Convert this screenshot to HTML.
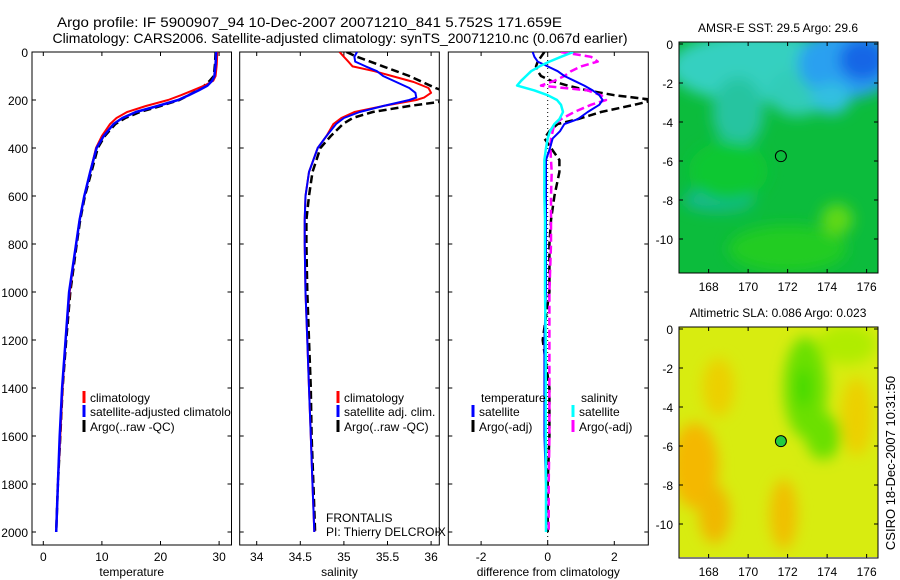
<!DOCTYPE html>
<html><head><meta charset="utf-8"><style>
html,body{margin:0;padding:0;background:#fff;}
svg{display:block;font-family:"Liberation Sans",sans-serif;}
text{fill:#000;}
</style></head><body>
<svg id="fig" width="900" height="580" viewBox="0 0 900 580" xmlns="http://www.w3.org/2000/svg">
<defs>
<clipPath id="c1"><rect x="32" y="52" width="199.5" height="493"/></clipPath>
<clipPath id="c2"><rect x="239.7" y="52" width="199.6" height="493"/></clipPath>
<clipPath id="c3"><rect x="448.3" y="52" width="200" height="493"/></clipPath>
<clipPath id="ct1"><rect x="32" y="52" width="199" height="493"/></clipPath>
<clipPath id="ct2"><rect x="239.7" y="52" width="208" height="493"/></clipPath>
<clipPath id="cm1"><rect x="679" y="42" width="199" height="231"/></clipPath>
<clipPath id="cm2"><rect x="679" y="327" width="199" height="230"/></clipPath>
<filter id="bl" x="-50%" y="-50%" width="200%" height="200%"><feGaussianBlur stdDeviation="7"/></filter>
</defs>
<text x="57" y="27" font-size="14" textLength="505" lengthAdjust="spacingAndGlyphs">Argo profile: IF 5900907_94 10-Dec-2007 20071210_841 5.752S 171.659E</text>
<text x="340" y="43" font-size="14" text-anchor="middle">Climatology: CARS2006. Satellite-adjusted climatology: synTS_20071210.nc (0.067d earlier)</text>
<g id="g1"></g>
<g id="g2"></g>
<g id="g3"></g>
<g id="m1"></g>
<g id="m2"></g>
<text transform="translate(895,463) rotate(-90)" font-size="13" text-anchor="middle">CSIRO 18-Dec-2007 10:31:50</text>
</svg>
<script>
const tDepth=[0,50,100,120,140,160,180,200,225,250,275,300,350,400,500,600,700,800,1000,1200,1400,1600,1800,2000];
const tempClim=[29.7,29.6,29.4,29.0,27.5,25.5,23.5,21.3,17.5,14.3,12.5,11.4,10.0,9.0,8.0,7.0,6.2,5.6,4.5,3.8,3.3,2.9,2.5,2.2];
const tempSat=[29.5,29.4,29.2,28.8,28.0,26.5,24.8,23.0,19.5,15.8,13.5,12.0,10.3,9.1,8.0,7.0,6.2,5.6,4.4,3.8,3.2,2.8,2.5,2.2];
const tempArgo=[29.4,29.3,29.1,28.4,27.5,26.3,24.8,23.2,20.0,16.5,14.0,12.3,10.5,9.3,8.2,7.1,6.3,5.7,4.6,3.9,3.3,2.9,2.5,2.2];
const sDepth=[0,20,40,60,80,100,125,150,170,190,200,225,250,275,300,350,400,500,600,700,800,1000,1200,1400,1600,1800,2000];
const salClim=[34.95,35.0,35.05,35.1,35.35,35.55,35.8,35.97,36.0,35.92,35.83,35.45,35.12,34.97,34.88,34.8,34.7,34.6,34.56,34.55,34.55,34.56,34.58,34.6,34.62,34.64,34.66];
const salSat=[35.15,35.12,35.13,35.25,35.38,35.45,35.6,35.75,35.82,35.83,35.75,35.45,35.18,35.0,34.91,34.8,34.7,34.6,34.56,34.55,34.55,34.56,34.58,34.6,34.62,34.64,34.66];
const salArgo=[35.03,35.15,35.3,35.45,35.6,35.75,35.9,36.05,36.2,36.3,36.25,35.75,35.33,35.1,34.99,34.85,34.73,34.64,34.6,34.57,34.57,34.58,34.6,34.62,34.63,34.65,34.67];
const dDepth=[0,20,40,60,80,100,120,140,160,180,200,220,250,280,300,330,360,400,450,500,600,700,800,1000,1200,1400,1600,1800,2000];
const diffTSat=[-0.45,-0.4,-0.3,0,0.3,0.5,0.8,1.1,1.35,1.55,1.65,1.55,1.2,0.9,0.5,0.37,0.15,0.07,-0.05,-0.05,-0.05,-0.05,-0.05,-0.05,-0.1,-0.1,-0.1,-0.05,-0.05];
const diffTArgo=[-0.1,-0.2,-0.3,-0.35,-0.3,-0.2,0.1,0.6,1.2,2.0,3.2,2.6,1.6,0.9,0.3,0.05,-0.1,0.1,0.35,0.35,0.2,0.1,0.05,0.05,-0.15,0.05,0.05,0.0,0.0];
const diffSSat=[0.77,0.4,0.05,-0.25,-0.5,-0.65,-0.8,-0.92,-0.4,0.0,0.28,0.4,0.46,0.35,0.2,0.07,0.0,-0.05,-0.1,-0.1,-0.1,-0.08,-0.08,-0.08,-0.06,-0.06,-0.06,-0.05,-0.05];
const diffSArgo=[0.4,1.3,1.5,1.0,0.7,0.5,0.2,-0.2,1.2,1.6,1.75,1.3,0.8,0.4,0.2,0.15,0.1,0.08,0.1,0.12,0.1,0.1,0.1,0.05,0.05,0.05,0.05,0.03,0.03];
const depthTicks=[0,200,400,600,800,1000,1200,1400,1600,1800,2000];
const tempTicks=[0,10,20,30];
const salTicks=[34,34.5,35,35.5,36];
const diffTicks=[-2,0,2];
const lonTicks=[168,170,172,174,176];
const latTicks=[0,-2,-4,-6,-8,-10];
const argoLon=171.659, argoLat=-5.752;

const NS="http://www.w3.org/2000/svg";
function mk(tag,attrs,parent){const e=document.createElementNS(NS,tag);for(const k in attrs)e.setAttribute(k,attrs[k]);parent.appendChild(e);return e;}
const yD=d=>52+d*0.24;
const xT=t=>43.3+t*5.86;
const xS=s=>256.7+(s-34)*87.2;
const xDf=v=>547.7+v*33.3;

function panel(g,x0,x1,ticks,xf,labels,xlab,clip,name){
  const ax=mk('rect',{x:x0,y:52,width:x1-x0,height:493,fill:'none',stroke:'#000','stroke-width':1},g);
  
  depthTicks.forEach(d=>{const y=yD(d);
    mk('line',{x1:x0,x2:x0+4,y1:y,y2:y,stroke:'#000'},g);mk('line',{x1:x1-4,x2:x1,y1:y,y2:y,stroke:'#000'},g);
    if(labels){const t=mk('text',{x:x0-4,y:y+5,'font-size':12,'text-anchor':'end'},g);t.textContent=d;
      }
  });
  ticks.forEach(v=>{const x=xf(v);
    mk('line',{x1:x,x2:x,y1:52,y2:56,stroke:'#000'},g);mk('line',{x1:x,x2:x,y1:541,y2:545,stroke:'#000'},g);
    const t=mk('text',{x:x,y:561,'font-size':12,'text-anchor':'middle'},g);t.textContent=v;
    });
  const xl=mk('text',{x:(x0+x1)/2,y:576,'font-size':12,'text-anchor':'middle'},g);xl.textContent=xlab;
  
}
function line(g,depths,vals,xf,color,dash,w,clip,name){
  let d='';vals.forEach((v,i)=>{d+=(i?'L':'M')+xf(v).toFixed(1)+','+yD(depths[i]).toFixed(1);});
  const p=mk('path',{d:d,fill:'none',stroke:color,'stroke-width':w,'clip-path':'url(#'+clip+')','stroke-linejoin':'round'},g);
  if(dash)p.setAttribute('stroke-dasharray',dash);
  
}
function legend(g,x,y,color,label,name,clip){
  mk('line',{x1:x,x2:x,y1:y-11,y2:y+1,stroke:color,'stroke-width':3},g);
  const t=mk('text',{x:x+6,y:y,'font-size':12},g);t.textContent=label;
  if(clip)t.setAttribute('clip-path','url(#'+clip+')');
  
}
const g1=document.getElementById('g1'),g2=document.getElementById('g2'),g3=document.getElementById('g3');
panel(g1,32,231.5,tempTicks,xT,true,'temperature','c1','temperature');
line(g1,tDepth,tempArgo,xT,'#000','8,4',2.5,'c1','temp-argo-line');
line(g1,tDepth,tempClim,xT,'#f00',null,2,'c1','temp-climatology-line');
line(g1,tDepth,tempSat,xT,'#00f',null,2.5,'c1','temp-satellite-line');
legend(g1,84,402,'#f00','climatology','legend-climatology');
legend(g1,84,416,'#00f','satellite-adjusted climatology','legend-satellite-adjusted','ct1');
legend(g1,84,431,'#000','Argo(..raw -QC)','legend-argo');

panel(g2,239.7,439.3,salTicks,xS,false,'salinity','c2','salinity');
line(g2,sDepth,salArgo,xS,'#000','8,4',2.5,'c2','sal-argo-line');
line(g2,sDepth,salClim,xS,'#f00',null,2,'c2','sal-climatology-line');
line(g2,sDepth,salSat,xS,'#00f',null,2,'c2','sal-satellite-line');
legend(g2,338,402,'#f00','climatology','legend-sal-climatology');
legend(g2,338,416,'#00f','satellite adj. clim.','legend-sal-satellite');
legend(g2,338,431,'#000','Argo(..raw -QC)','legend-sal-argo');
let ft=mk('text',{x:326,y:522,'font-size':12},g2);ft.textContent='FRONTALIS';

ft=mk('text',{x:326,y:536,'font-size':12,'clip-path':'url(#ct2)'},g2);ft.textContent='PI: Thierry DELCROIX';


panel(g3,448.3,648.3,diffTicks,xDf,false,'difference from climatology','c3','difference');
mk('line',{x1:xDf(0),x2:xDf(0),y1:52,y2:545,stroke:'#000','stroke-dasharray':'1,3'},g3);
line(g3,dDepth,diffTArgo,xDf,'#000','8,4',2.5,'c3','diff-temp-argo-line');
line(g3,dDepth,diffSArgo,xDf,'#f0f','8,4',2.5,'c3','diff-sal-argo-line');
line(g3,dDepth,diffTSat,xDf,'#00f',null,2,'c3','diff-temp-satellite-line');
line(g3,dDepth,diffSSat,xDf,'#0ff',null,2.5,'c3','diff-sal-satellite-line');
let tt=mk('text',{x:481,y:402,'font-size':12},g3);tt.textContent='temperature';

tt=mk('text',{x:581,y:402,'font-size':12},g3);tt.textContent='salinity';

legend(g3,473,416,'#00f','satellite','legend-temp-satellite');
legend(g3,473,431,'#000','Argo(-adj)','legend-temp-argo');
legend(g3,573,416,'#0ff','satellite','legend-sal-satellite-diff');
legend(g3,573,431,'#f0f','Argo(-adj)','legend-sal-argo-diff');

function mapAxes(g,top,lat0y,title,clip,name,base,blobs,dotFill){
  const bottom=top+231;
  const lx=lo=>679+(lo-166.5)*19.75, ly=la=>lat0y-la*19.5;
  const bg=mk('g',{'clip-path':'url(#'+clip+')'},g);
  mk('rect',{x:679,y:top,width:199,height:231,fill:base},bg);
  const bb=mk('g',{filter:'url(#bl)'},bg);
  blobs.forEach(b=>mk('ellipse',{cx:lx(b[0]),cy:ly(b[1]),rx:b[2]*19.75,ry:b[3]*19.5,fill:b[4]},bb));
  const c=mk('circle',{cx:lx(argoLon),cy:ly(argoLat),r:5.5,fill:dotFill,stroke:'#000','stroke-width':1},g);
  
  mk('rect',{x:679,y:top,width:199,height:231,fill:'none',stroke:'#000'},g);
  lonTicks.forEach(v=>{const x=lx(v);mk('line',{x1:x,x2:x,y1:top,y2:top+4,stroke:'#000'},g);mk('line',{x1:x,x2:x,y1:bottom-4,y2:bottom,stroke:'#000'},g);
    const t=mk('text',{x:x,y:bottom+18,'font-size':12,'text-anchor':'middle'},g);t.textContent=v;
    });
  latTicks.forEach(v=>{const y=ly(v);mk('line',{x1:679,x2:683,y1:y,y2:y,stroke:'#000'},g);mk('line',{x1:874,x2:878,y1:y,y2:y,stroke:'#000'},g);
    const t=mk('text',{x:673,y:y+5,'font-size':12,'text-anchor':'end'},g);t.textContent=v;
    });
  const tl=mk('text',{x:778,y:top-10,'font-size':12,'text-anchor':'middle'},g);tl.textContent=title;
  
}
mapAxes(document.getElementById('m1'),42,44,'AMSR-E SST: 29.5 Argo: 29.6','cm1','sst-map','#0cbc3c',[
 [170.5,-1.2,4.5,1.8,'#34d0c0'],[169.5,-3.5,1.3,1.8,'#28c4a0'],[172.5,-2.5,1.5,1.2,'#30ccb8'],
 [175,-1,2.5,1.8,'#2aa0f0'],[175.8,-0.8,1.2,1.1,'#1466e6'],[174.2,-2.8,1,0.8,'#30c0e0'],
 [168.5,-8,1.8,0.6,'#18b890'],[169,-6.5,2,1.5,'#10c830'],[172,-10.5,3,1.2,'#20cc20'],[174.5,-9,0.8,0.8,'#60d818']
],'none');
mapAxes(document.getElementById('m2'),327,329,'Altimetric SLA: 0.086 Argo: 0.023','cm2','sla-map','#d8ec10',[
 [167.3,-7,1.2,2.2,'#f4b800'],[168.3,-9.5,0.8,1.5,'#f0b800'],[171.8,-9.5,0.7,1.8,'#f0c000'],[168.5,-3,0.8,1.5,'#ecd000'],
 [172.9,-3,1.1,2.6,'#6ae000'],[173.8,-5.5,0.9,1.2,'#6ae000'],[172.8,-3,0.3,1,'#30d800'],[175.5,-4.5,0.8,2,'#ecd000'],[175,-0.8,1.5,1,'#b0ec00']
],'#22cc40');
</script>
</body></html>
